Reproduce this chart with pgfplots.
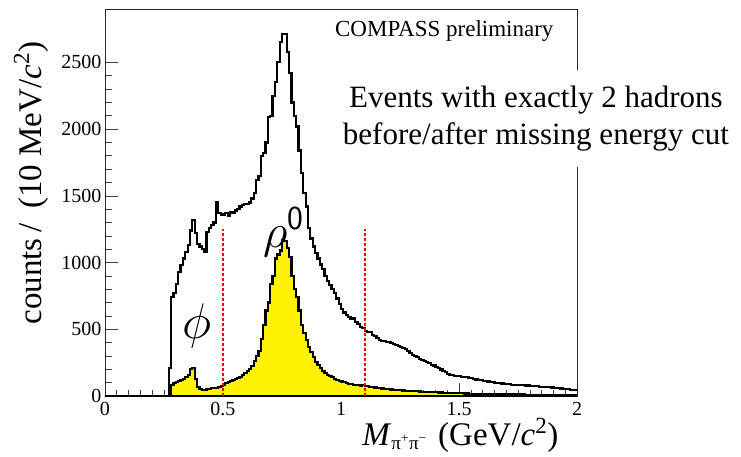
\RequirePackage{fix-cm}
\documentclass[border=0pt]{standalone}
\usepackage{fontspec}
\setmainfont{Liberation Serif}
\usepackage{pgfplots}
\pgfplotsset{compat=1.18}
\begin{document}
\begin{tikzpicture}
\begin{axis}[
  at={(0,0)}, anchor=south west,
  scale only axis, width=472pt, height=387pt,
  xmin=0, xmax=2, ymin=0, ymax=2900,
  xtick={0,0.5,1,1.5,2}, xticklabels={0,0.5,1,1.5,2},
  ytick={0,500,1000,1500,2000,2500},
  yticklabels={0,500,1000,1500,2000,2500},
  minor x tick num=9, minor y tick num=4,
  tick align=inside, xtick pos=bottom, ytick pos=left,
  major tick length=13pt, minor tick length=6.5pt,
  tick style={black!75, line width=0.6pt},
  axis line style={line width=0.8pt, black!85},
  ticklabel style={font=\fontsize{20}{20}\selectfont},
  /pgf/number format/assume math mode=true,
  xticklabel style={yshift=-3pt},
  clip mode=individual,
  xlabel={\textit{M}\raisebox{-0.12em}{\fontsize{19}{19}\selectfont π\textsuperscript{+}π\textsuperscript{−}}\hspace{0.35em}(GeV/\textit{c}\textsuperscript{2})},
  xlabel style={font=\fontsize{33}{33}\selectfont, at={(axis description cs:0.968,-0.128)}, anchor=base east},
  ylabel={counts\,/\hspace{0.45em}(10 MeV/\textit{c}\textsuperscript{2})},
  ylabel style={font=\fontsize{33}{33}\selectfont, at={(axis description cs:-0.157,0.55)}, anchor=center},
]
\addplot[const plot, black, line width=2.2pt] coordinates {
(0,0) (0.27,210) (0.28,740) (0.29,770) (0.30,840) (0.31,930) (0.32,980) (0.33,1030) (0.34,1080) (0.35,1130) (0.36,1240) (0.37,1320) (0.38,1220) (0.39,1140) (0.40,1120) (0.41,1100) (0.42,1080) (0.43,1230) (0.44,1260) (0.45,1280) (0.46,1300) (0.47,1450) (0.48,1370) (0.49,1360) (0.50,1360) (0.51,1370) (0.52,1350) (0.53,1380) (0.54,1370) (0.55,1390) (0.56,1400) (0.57,1420) (0.58,1430) (0.59,1440) (0.60,1440) (0.61,1450) (0.62,1480) (0.63,1520) (0.64,1620) (0.65,1650) (0.66,1800) (0.67,1820) (0.68,1900) (0.69,2090) (0.70,2100) (0.71,2250) (0.72,2350) (0.73,2500) (0.74,2650) (0.75,2710) (0.76,2710) (0.77,2580) (0.78,2420) (0.79,2200) (0.80,2100) (0.81,2020) (0.82,1840) (0.83,1670) (0.84,1520) (0.85,1420) (0.86,1260) (0.87,1180) (0.88,1120) (0.89,1070) (0.90,1030) (0.91,985) (0.92,950) (0.93,900) (0.94,860) (0.95,830) (0.96,800) (0.97,770) (0.98,730) (0.99,690) (1.00,650) (1.01,625) (1.02,605) (1.03,595) (1.04,580) (1.05,585) (1.06,555) (1.07,540) (1.08,520) (1.09,508) (1.10,490) (1.11,482) (1.12,478) (1.13,460) (1.14,450) (1.15,435) (1.16,420) (1.17,415) (1.18,410) (1.19,405) (1.20,402) (1.21,398) (1.22,392) (1.23,385) (1.24,375) (1.25,368) (1.26,360) (1.27,350) (1.28,340) (1.29,322) (1.30,305) (1.31,298) (1.32,292) (1.33,280) (1.34,270) (1.35,262) (1.36,255) (1.37,245) (1.38,235) (1.39,228) (1.40,218) (1.41,210) (1.42,198) (1.43,190) (1.44,178) (1.45,165) (1.46,155) (1.47,158) (1.48,152) (1.49,150) (1.50,148) (1.51,145) (1.52,143) (1.53,140) (1.54,137) (1.55,133) (1.56,128) (1.57,124) (1.58,120) (1.59,117) (1.60,114) (1.61,111) (1.62,108) (1.63,105) (1.64,103) (1.65,100) (1.66,98) (1.67,95) (1.68,93) (1.69,91) (1.70,89) (1.71,87) (1.72,85) (1.73,83) (1.74,82) (1.75,81) (1.76,80) (1.77,80) (1.78,79) (1.79,78) (1.80,77) (1.81,76) (1.82,74) (1.83,72) (1.84,70) (1.85,69) (1.86,68) (1.87,67) (1.88,66) (1.89,64) (1.90,62) (1.91,60) (1.92,58) (1.93,56) (1.94,54) (1.95,52) (1.96,50) (1.97,47) (1.98,45) (1.99,43) (2.00,43)
};
\addplot[const plot, draw=black, fill=yellow, line width=2.2pt] coordinates {
(0,0) (0.28,80) (0.29,95) (0.30,105) (0.31,112) (0.32,118) (0.33,125) (0.34,140) (0.35,160) (0.36,200) (0.37,212) (0.38,130) (0.39,65) (0.40,52) (0.41,45) (0.42,45) (0.43,50) (0.44,55) (0.45,58) (0.46,60) (0.47,62) (0.48,68) (0.49,75) (0.50,85) (0.51,100) (0.52,105) (0.53,110) (0.54,118) (0.55,125) (0.56,135) (0.57,145) (0.58,158) (0.59,170) (0.60,185) (0.61,200) (0.62,225) (0.63,265) (0.64,300) (0.65,340) (0.66,430) (0.67,530) (0.68,640) (0.69,700) (0.70,840) (0.71,900) (0.72,1030) (0.73,1060) (0.74,1090) (0.75,1170) (0.76,1160) (0.77,1110) (0.78,1040) (0.79,900) (0.80,800) (0.81,740) (0.82,640) (0.83,530) (0.84,470) (0.85,420) (0.86,370) (0.87,330) (0.88,290) (0.89,255) (0.90,230) (0.91,210) (0.92,190) (0.93,175) (0.94,160) (0.95,150) (0.96,140) (0.97,130) (0.98,122) (0.99,115) (1.00,108) (1.01,103) (1.02,97) (1.03,92) (1.04,88) (1.05,85) (1.06,82) (1.07,80) (1.08,78) (1.09,82) (1.10,76) (1.11,72) (1.12,70) (1.13,66) (1.14,64) (1.15,62) (1.16,58) (1.17,56) (1.18,54) (1.19,52) (1.20,50) (1.21,48) (1.22,47) (1.23,45) (1.24,44) (1.25,43) (1.26,42) (1.27,40) (1.28,39) (1.29,38) (1.30,37) (1.31,36) (1.32,35) (1.33,34) (1.34,33) (1.35,32) (1.36,31) (1.37,30) (1.38,29) (1.39,28) (1.40,28) (1.41,27) (1.42,26) (1.43,25) (1.44,25) (1.45,24) (1.46,23) (1.47,22) (1.48,22) (1.49,21) (1.50,20) (1.51,20) (1.52,19) (1.53,19) (1.54,18) (1.55,18) (1.56,17) (1.57,17) (1.58,16) (1.59,16) (1.60,16) (1.61,15) (1.62,15) (1.63,15) (1.64,14) (1.65,14) (1.66,14) (1.67,13) (1.68,13) (1.69,13) (1.70,12) (1.71,12) (1.72,12) (1.73,12) (1.74,11) (1.75,11) (1.76,11) (1.77,11) (1.78,10) (1.79,10) (1.80,10) (1.81,10) (1.82,10) (1.83,9) (1.84,9) (1.85,9) (1.86,9) (1.87,9) (1.88,9) (1.89,8) (1.90,8) (1.91,8) (1.92,8) (1.93,8) (1.94,8) (1.95,8) (1.96,7) (1.97,7) (1.98,7) (1.99,7) (2.00,7)
} \closedcycle;
\addplot[red, line width=2pt, dash pattern=on 3pt off 2pt] coordinates {(0.5,0) (0.5,1250)};
\addplot[red, line width=2pt, dash pattern=on 3pt off 2pt] coordinates {(1.1,0) (1.1,1250)};
\node[anchor=base east, font=\fontsize{23}{23}\selectfont] at (rel axis cs:0.9576,0.928) {COMPASS preliminary};
\node[font=\fontsize{50}{50}\selectfont] at (axis cs:0.389,525) {$\phi$};
\node[font=\fontsize{48}{48}\selectfont] at (axis cs:0.756,1230) {$\rho^{\mathsf{0}}$};
\coordinate (ev) at (rel axis cs:0.913,0.717);
\end{axis}
\node[fill=white, align=center, inner xsep=4pt, inner ysep=16pt, font=\fontsize{31}{36.7}\selectfont] at (ev) {Events with exactly 2 hadrons\\before/after missing energy cut};
\pgfresetboundingbox
\path (-105pt,-60pt) rectangle (636pt,396pt);
\end{tikzpicture}
\end{document}
